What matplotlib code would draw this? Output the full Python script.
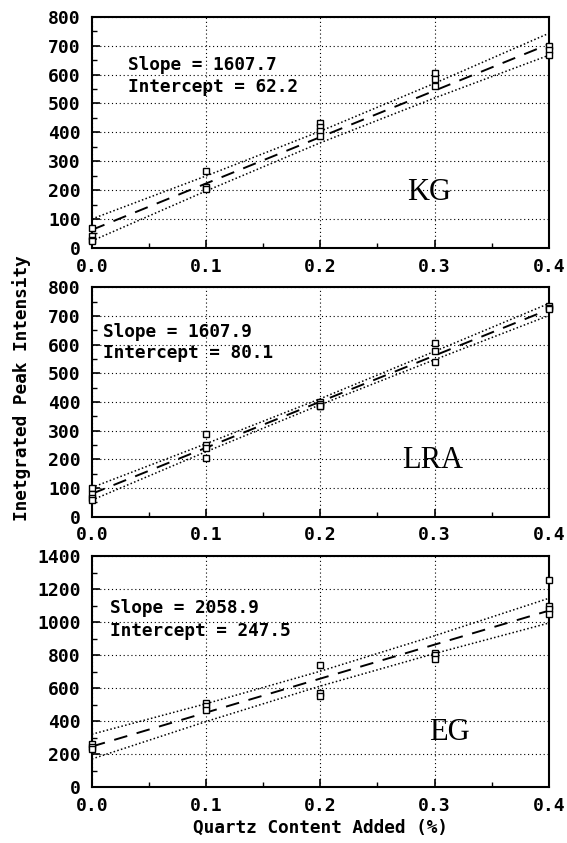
from matplotlib import pyplot as plt
from matplotlib.ticker import MultipleLocator

# quartz added (%)
x_levels = [0.0, 0.1, 0.2, 0.3, 0.4]

kg_x = [0.0, 0.0, 0.0, 0.0, 0.1, 0.1, 0.1, 0.2, 0.2, 0.2, 0.2, 0.3, 0.3, 0.3, 0.4, 0.4, 0.4]
kg_y = [68, 42, 28, 22, 265, 210, 205, 432, 420, 405, 388, 605, 585, 560, 700, 685, 668]
kg_upper = [100, 249, 404, 570, 743]
kg_lower = [24, 197, 364, 519, 667]

lra_x = [0.0, 0.0, 0.0, 0.0, 0.1, 0.1, 0.1, 0.1, 0.2, 0.2, 0.2, 0.2, 0.3, 0.3, 0.3, 0.4, 0.4, 0.4]
lra_y = [100, 78, 65, 58, 288, 250, 240, 205, 400, 395, 388, 385, 605, 580, 540, 735, 730, 725]
lra_upper = [102, 255, 412, 577, 744]
lra_lower = [58, 227, 391, 548, 702]

eg_x = [0.0, 0.0, 0.0, 0.1, 0.1, 0.1, 0.2, 0.2, 0.2, 0.3, 0.3, 0.3, 0.4, 0.4, 0.4, 0.4]
eg_y = [260, 245, 235, 510, 495, 470, 740, 572, 555, 815, 800, 775, 1255, 1100, 1080, 1050]
eg_upper = [322, 507, 704, 919, 1146]
eg_lower = [172, 399, 614, 811, 996]

slopes = [1607.7, 1607.9, 2058.9]
intercepts = [62.2, 80.1, 247.5]
names = ['KG', 'LRA', 'EG']

mono = 'DejaVu Sans Mono'

fig = plt.figure(figsize=(5.67, 8.43), dpi=100)
boxes = [[0.162, 0.706, 0.806, 0.274],
         [0.162, 0.387, 0.806, 0.272],
         [0.162, 0.066, 0.806, 0.274]]

panels = [(kg_x, kg_y, kg_upper, kg_lower, 800, 100, 50, (0.295, 190), (633, 556), 0.032),
          (lra_x, lra_y, lra_upper, lra_lower, 800, 100, 50, (0.298, 195), (645, 570), 0.010),
          (eg_x, eg_y, eg_upper, eg_lower, 1400, 200, 100, (0.313, 330), (1088, 945), 0.016)]

for i, (px, py, up, lo, ymax, ymaj, ymin, name_pos, txt_y, txt_x) in enumerate(panels):
    ax = fig.add_axes(boxes[i])
    fit = [intercepts[i] + slopes[i] * v for v in x_levels]

    ax.plot(x_levels, fit, color='black', linestyle=(0, (7, 5)), linewidth=1.4)
    ax.plot(x_levels, up, color='black', linestyle=(0, (1, 1.5)), linewidth=1.1)
    ax.plot(x_levels, lo, color='black', linestyle=(0, (1, 1.5)), linewidth=1.1)
    ax.plot(px, py, linestyle='none', marker='s', markersize=5, markerfacecolor='white',
            markeredgecolor='black', markeredgewidth=1.0, clip_on=False, zorder=5)

    ax.set_xlim(0, 0.4)
    ax.set_ylim(0, ymax)
    ax.xaxis.set_major_locator(MultipleLocator(0.1))
    ax.xaxis.set_minor_locator(MultipleLocator(0.05))
    ax.yaxis.set_major_locator(MultipleLocator(ymaj))
    ax.yaxis.set_minor_locator(MultipleLocator(ymin))
    ax.xaxis.set_major_formatter(plt.FormatStrFormatter('%.1f'))
    ax.tick_params(which='major', direction='in', length=6, width=1.2, labelsize=13)
    ax.tick_params(axis='x', which='major', pad=7)
    ax.tick_params(axis='y', which='major', pad=8)
    ax.tick_params(which='minor', direction='in', length=3.5, width=1.0)
    for lab in ax.get_xticklabels() + ax.get_yticklabels():
        lab.set_fontfamily(mono)
        lab.set_fontweight('bold')
    ax.grid(True, which='major', color='black', linestyle=(0, (1, 2.5)), linewidth=0.8)
    for sp in ax.spines.values():
        sp.set_linewidth(1.5)

    ax.text(txt_x, txt_y[0], 'Slope = %.1f' % slopes[i], family=mono, fontweight='bold',
            fontsize=12.8, va='center', ha='left')
    ax.text(txt_x, txt_y[1], 'Intercept = %.1f' % intercepts[i], family=mono, fontweight='bold',
            fontsize=12.8, va='center', ha='left')
    ax.text(name_pos[0], name_pos[1], names[i], family='Liberation Serif', fontsize=22,
            ha='center', va='center')

    if i == 2:
        ax.set_xlabel('Quartz Content Added (%)', family=mono, fontweight='bold',
                      fontsize=12.8, labelpad=3)

fig.text(0.038, 0.54, 'Inetgrated Peak Intensity', family=mono, fontweight='bold',
         fontsize=12.8, rotation=90, ha='center', va='center')

plt.savefig('out.png', dpi=100)
